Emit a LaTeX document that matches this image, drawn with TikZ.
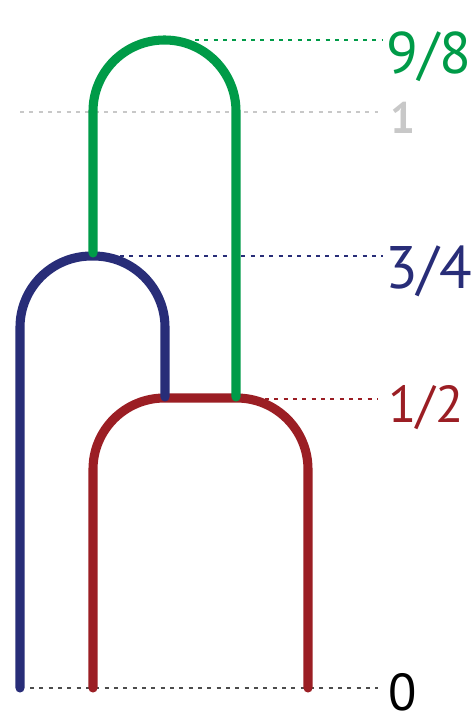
\documentclass[tikz,border=0pt]{standalone}
\usepackage{fontspec}
\setmainfont{PT Sans}
\usetikzlibrary{positioning}
\definecolor{ArchGreen}{RGB}{0,155,72}
\definecolor{ArchBlue}{RGB}{40,45,120}
\definecolor{ArchRed}{RGB}{155,30,36}
\definecolor{LevelGrey}{RGB}{200,200,200}
\tikzset{
  arch/.style={line width=6.8pt,line cap=round,rounded corners=53.5pt},
  guide/.style={line width=1.4pt,dash pattern=on 3pt off 4pt},
  level/.style={anchor=base west,inner sep=0pt}
}
\begin{document}
\begin{tikzpicture}[x=0.75pt,y=-0.75pt]
  \useasboundingbox (0,0) rectangle (474,711);

  % levels
  \node[level,text=ArchGreen,font=\fontsize{44}{44}\selectfont] (lv98) at (386,73) {9/8};
  \node[level,text=LevelGrey,font=\fontsize{33}{33}\selectfont\bfseries] (lv1) at (390,133) {1};
  \node[level,text=ArchBlue,font=\fontsize{45}{45}\selectfont] (lv34) at (385,288) {3/4};
  \node[level,text=ArchRed,font=\fontsize{39}{39}\selectfont] (lv12) at (388,422) {1/2};
  \node[level,text=black,font=\fontsize{39}{39}\selectfont] (lv0) at (388,710) {0};

  \coordinate (g98) at (195,40);
  \coordinate (g1) at (20,112);
  \coordinate (g34) at (120,256);
  \coordinate (g12) at (265,399);
  \coordinate (g0) at (30,688);
  \coordinate (e98) at (383,40);
  \coordinate (e1) at (378,112);
  \coordinate (e34) at (383,256);
  \coordinate (e12) at (378,399);
  \coordinate (e0) at (378,688);

  \draw[guide,draw=ArchGreen] (g98) -- (e98);
  \draw[guide,draw=LevelGrey] (g1) -- (e1);
  \draw[guide,draw=ArchBlue] (g34) -- (e34);
  \draw[guide,draw=ArchRed] (g12) -- (e12);
  \draw[guide,draw=black!70] (g0) -- (e0);

  % arches
  \draw[arch,draw=ArchRed] (93,688) -- (93,398) -- (308,398) -- (308,688);
  \draw[arch,draw=ArchBlue] (20,688) -- (20,256) -- (165,256) -- (165,397);
  \draw[arch,draw=ArchGreen] (93,253) -- (93,40) -- (236,40) -- (236,397);
\end{tikzpicture}
\end{document}
